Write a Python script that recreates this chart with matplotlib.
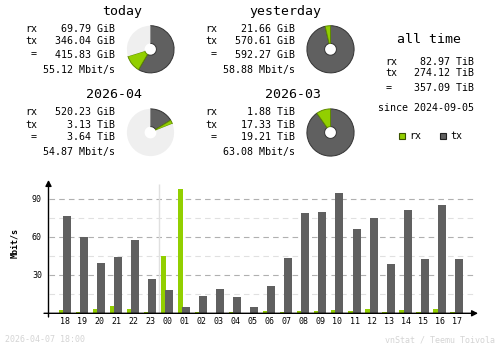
import numpy as np
import matplotlib
matplotlib.use("Agg")
import matplotlib.pyplot as plt

plt.rcParams['lines.scale_dashes'] = False
plt.rcParams['font.family'] = ['DejaVu Sans Mono']

RX_COLOR = '#92cf00'
TX_COLOR = '#606060'
RX_EDGE = '#5f8a00'
TX_EDGE = '#333333'
PIE_BG = '#efefef'

# hourly average rates, Mbit/s
hours = ['18', '19', '20', '21', '22', '23', '00', '01', '02', '03', '04', '05',
         '06', '07', '08', '09', '10', '11', '12', '13', '14', '15', '16', '17']
rx_rate = [2.6, 1.0, 3.4, 5.8, 3.4, 1.0, 45.2, 98.1, 1.0, 0.3, 1.0, 0.2,
           1.8, 1.0, 1.8, 1.8, 2.6, 1.8, 3.4, 1.0, 2.6, 1.0, 3.4, 1.0]
tx_rate = [76.8, 60.2, 39.7, 44.4, 57.9, 27.1, 18.4, 5.2, 13.7, 19.2, 12.9, 5.0,
           21.5, 43.6, 79.2, 80.0, 95.0, 66.5, 75.2, 38.9, 81.5, 42.9, 85.5, 42.9]

# traffic summaries (GiB for days, TiB for months)
day_names = ['today', 'yesterday']
day_rx = [69.79, 21.66]
day_tx = [346.04, 570.61]
day_total = [415.83, 592.27]
day_rate = [55.12, 58.88]

month_names = ['2026-04', '2026-03']
month_rx = [520.23 / 1024, 1.88]
month_tx = [3.13, 17.33]
month_total = [3.64, 19.21]
month_rate = [54.87, 63.08]
month_rx_text = ['520.23 GiB', '1.88 TiB']

alltime_rx = 82.97
alltime_tx = 274.12
alltime_total = 357.09
since = '2024-09-05'

W, H = 500, 348
fig = plt.figure(figsize=(W / 100, H / 100), dpi=100)
fig.patch.set_facecolor('white')

# pixel overlay for all the text
ov = fig.add_axes([0, 0, 1, 1])
ov.set_xlim(0, W)
ov.set_ylim(H, 0)
ov.axis('off')

BODY = 7.2
TITLE = 9.5
SMALL = 6.0


def summary_block(x_lab, x_val, x_title, y0, title, rx_txt, tx_txt, tot_txt, rate):
    ov.text(x_title, y0, title, ha='right', va='center', fontsize=TITLE)
    ys = [y0 + 18, y0 + 30.5, y0 + 43.5, y0 + 58.5]
    ov.text(x_lab, ys[0], 'rx', ha='left', va='center', fontsize=BODY)
    ov.text(x_lab, ys[1], 'tx', ha='left', va='center', fontsize=BODY)
    ov.text(x_lab + 9, ys[2], '=', ha='center', va='center', fontsize=BODY)
    ov.text(x_val, ys[0], rx_txt, ha='right', va='center', fontsize=BODY)
    ov.text(x_val, ys[1], tx_txt, ha='right', va='center', fontsize=BODY)
    ov.text(x_val, ys[2], tot_txt, ha='right', va='center', fontsize=BODY)
    ov.text(x_val, ys[3], f'{rate:.2f} Mbit/s', ha='right', va='center', fontsize=BODY)


def donut(cx, cy, r, tx, rx, ref):
    ax = fig.add_axes([(cx - r) / W, (H - cy - r) / H, 2 * r / W, 2 * r / H])
    rest = max(ref - tx - rx, 0)
    vals = [tx, rx, rest]
    ax.pie(vals, colors=[TX_COLOR, RX_COLOR, PIE_BG], startangle=90,
           counterclock=False, radius=1.0,
           wedgeprops=dict(width=0.75, linewidth=0))
    wedges = ax.patches
    wedges[0].set_edgecolor(TX_EDGE)
    wedges[0].set_linewidth(0.7)
    wedges[1].set_edgecolor(RX_EDGE)
    wedges[1].set_linewidth(0.7)
    ax.set_xlim(-1.03, 1.03)
    ax.set_ylim(-1.03, 1.03)
    ax.axis('off')


day_ref = max(day_total)
month_ref = max(month_total)
cols = [(25, 115, 142, 150.5), (205, 295, 321, 330.5)]
for i in range(2):
    xl, xv, xt, pcx = cols[i]
    summary_block(xl, xv, xt, 11, day_names[i], f'{day_rx[i]:.2f} GiB',
                  f'{day_tx[i]:.2f} GiB', f'{day_total[i]:.2f} GiB', day_rate[i])
    donut(pcx, 49.3, 24.3, day_tx[i], day_rx[i], day_ref)
    summary_block(xl, xv, xt, 94, month_names[i], month_rx_text[i],
                  f'{month_tx[i]:.2f} TiB', f'{month_total[i]:.2f} TiB', month_rate[i])
    donut(pcx, 132.5, 24.3, month_tx[i], month_rx[i], month_ref)

# all time block
ov.text(429, 39.3, 'all time', ha='center', va='center', fontsize=TITLE)
ov.text(385, 62, 'rx', ha='left', va='center', fontsize=BODY)
ov.text(385, 73.5, 'tx', ha='left', va='center', fontsize=BODY)
ov.text(388.5, 87.7, '=', ha='center', va='center', fontsize=BODY)
ov.text(474, 62, f'{alltime_rx:.2f} TiB', ha='right', va='center', fontsize=BODY)
ov.text(474, 73.5, f'{alltime_tx:.2f} TiB', ha='right', va='center', fontsize=BODY)
ov.text(474, 87.7, f'{alltime_total:.2f} TiB', ha='right', va='center', fontsize=BODY)
ov.text(474, 107.7, f'since {since}', ha='right', va='center', fontsize=BODY)

# legend
for sx, col, edge, lab in [(399, RX_COLOR, '#3a5200', 'rx'), (440, TX_COLOR, '#202020', 'tx')]:
    ov.add_patch(plt.Rectangle((sx, 133), 6, 6, facecolor=col, edgecolor=edge, linewidth=0.8))
    ov.text(sx + 10, 136, lab, ha='left', va='center', fontsize=BODY)

# footer
ov.text(5, 340, '2026-04-07 18:00', ha='left', va='center', fontsize=SMALL, color='#d4d4d4')
ov.text(495, 340, 'vnStat / Teemu Toivola', ha='right', va='center', fontsize=SMALL, color='#d4d4d4')

# hourly bar chart, mapped onto pixel geometry
SLOT = 17.03
X0 = 65.0          # pixel centre of first hour label
BASE = 313.3       # pixel y of zero
PPU = 1.2667       # pixels per Mbit/s
left_px, right_px, top_px, bot_px = 40, 480, 178, 318


def xd(px):
    return (px - X0) / SLOT


def yd(py):
    return (BASE - py) / PPU


bx = fig.add_axes([left_px / W, (H - bot_px) / H, (right_px - left_px) / W, (bot_px - top_px) / H])
bx.set_xlim(xd(left_px), xd(right_px))
bx.set_ylim(yd(bot_px), yd(top_px))
bx.axis('off')
bx.patch.set_alpha(0)

x = np.arange(len(hours))
for v in [15, 45, 75]:
    bx.hlines(v, xd(49), xd(473), colors='#e0e0e0', linewidth=0.8,
              linestyles=(0, (4, 3)), zorder=1)
for v in [30, 60, 90]:
    bx.hlines(v, xd(49), xd(473), colors='#b0b0b0', linewidth=0.8,
              linestyles=(0, (4, 3)), zorder=1)
    bx.text(xd(42), v, f'{v}', ha='right', va='center', fontsize=SMALL)

# day boundary
bx.vlines(5.5, 0, yd(184), colors='#e0e0e0', linewidth=1.0, zorder=1)

bx.bar(x - 5.0 / SLOT / 2 - 1.5 / SLOT, rx_rate, width=5.0 / SLOT, color=RX_COLOR, zorder=2)
bx.bar(x + 2.0 / SLOT, tx_rate, width=8.0 / SLOT, color=TX_COLOR, zorder=2)

for i, h in enumerate(hours):
    bx.text(i, yd(321.3), h, ha='center', va='center', fontsize=SMALL)

# axes with arrow heads
bx.annotate('', xy=(xd(478), 0), xytext=(xd(44), 0),
            arrowprops=dict(arrowstyle='-|>,head_length=0.35,head_width=0.18',
                            color='black', lw=1.0, shrinkA=0, shrinkB=0))
bx.annotate('', xy=(xd(48.5), yd(180)), xytext=(xd(48.5), yd(317)),
            arrowprops=dict(arrowstyle='-|>,head_length=0.35,head_width=0.18',
                            color='black', lw=1.0, shrinkA=0, shrinkB=0))

ov.text(15, 243, 'Mbit/s', ha='center', va='center', rotation=90,
        fontsize=SMALL, fontweight='bold')

fig.savefig('out.png', dpi=100)
